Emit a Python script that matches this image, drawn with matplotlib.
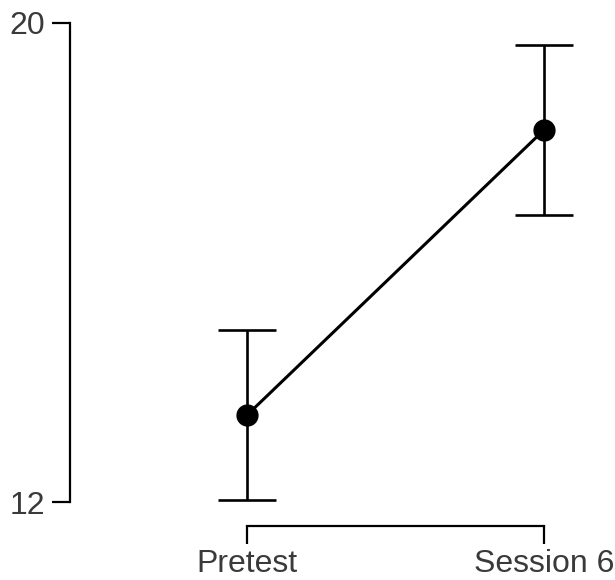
import matplotlib
matplotlib.use("Agg")
import matplotlib.pyplot as plt

# Descriptives: mean score with 95% CI per session
sessions = ["Pretest", "Session 6"]
means = [13.45, 18.21]
ci_lower = [12.03, 16.79]
ci_upper = [14.87, 19.63]
y_ticks = [12, 20]

plt.rcParams["font.family"] = ["Liberation Sans", "DejaVu Sans"]

W, H, DPI = 615, 580, 100
fig = plt.figure(figsize=(W / DPI, H / DPI), dpi=DPI)

# axes placement in pixels
left_px, right_px = 70, 605
top_px, bottom_px = 22.7, 502
ax = fig.add_axes([left_px / W, 1 - bottom_px / H,
                   (right_px - left_px) / W, (bottom_px - top_px) / H])

x = list(range(len(sessions)))
x0_px, x1_px = 247, 544
ppu = x1_px - x0_px
ax.set_xlim((left_px - x0_px) / ppu, (right_px - x0_px) / ppu)
ax.set_ylim(12, 20)

yerr = [[m - lo for m, lo in zip(means, ci_lower)],
        [hi - m for m, hi in zip(means, ci_upper)]]

ax.plot(x, means, color="black", lw=2.2, zorder=2, clip_on=False)
ax.errorbar(x, means, yerr=yerr, fmt="none", ecolor="black",
            elinewidth=1.9, capsize=21, capthick=1.9, zorder=2, clip_on=False)
ax.plot(x, means, "o", color="black", markersize=15, zorder=3, clip_on=False)

for side in ("top", "right"):
    ax.spines[side].set_visible(False)
ax.spines["left"].set_bounds(12, 20)
ax.spines["bottom"].set_bounds(0, 1)
ax.spines["bottom"].set_position(("outward", 17))
for side in ("left", "bottom"):
    ax.spines[side].set_linewidth(1.6)

ax.set_xticks(x)
ax.set_xticklabels(sessions)
ax.set_yticks(y_ticks)
ax.set_yticklabels([str(t) for t in y_ticks])
ax.tick_params(axis="both", direction="out", length=13, width=1.6,
               labelsize=23, labelcolor="#3a3a3a", color="black")
ax.tick_params(axis="y", pad=5)
ax.tick_params(axis="x", pad=4)

fig.savefig("out.png", dpi=DPI)
